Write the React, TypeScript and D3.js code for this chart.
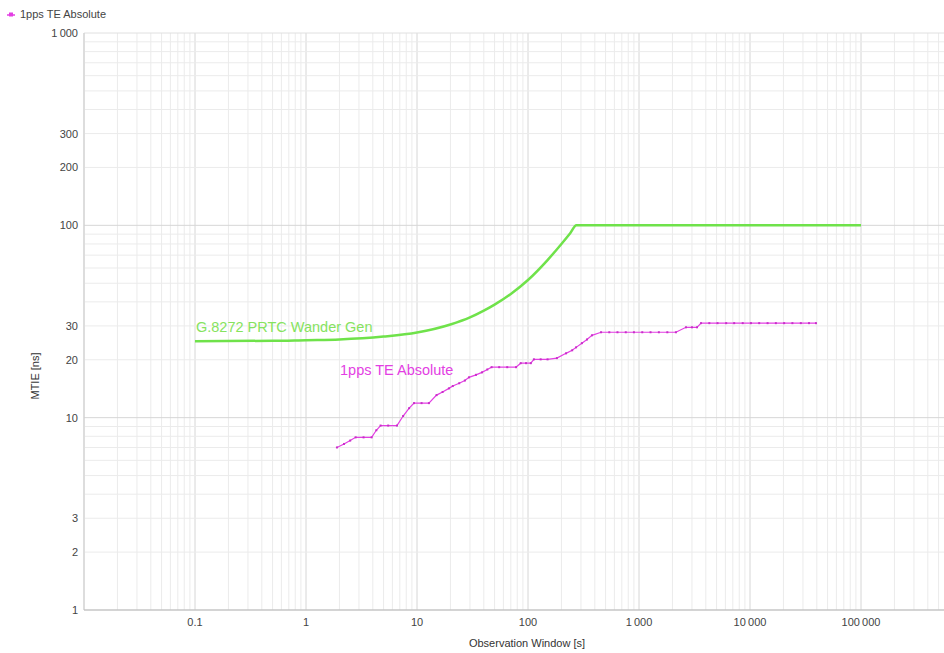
import React, { useEffect, useRef } from 'react'
import * as d3 from 'd3'

// G.8272 PRTC wander generation mask (tau [s], MTIE [ns])
const maskTau = [0.1, 0.5, 1, 2, 5, 10, 20, 30, 40, 50, 70, 100, 150, 200, 240, 273, 100000]
const maskMtie = [25, 25.1, 25.3, 25.5, 26.4, 27.7, 30.5, 33.2, 36, 38.7, 44, 52, 66, 80, 91, 100, 100]

// 1pps TE Absolute measurement (tau [s], MTIE [ns])
const ppsTau = [
    1.9, 2.2, 2.5, 2.8, 3.3, 3.9, 4.3, 4.7, 5.5, 6.6, 7.5, 8.5, 9.4, 11, 12.8, 15, 17, 19.4,
    21, 24, 27, 29.4, 34, 38.5, 43, 47, 55, 65, 78, 86, 96, 106, 113, 130, 150, 182, 220,
    250, 271, 306, 340, 377, 455, 540, 640, 760, 900, 1070, 1270, 1510, 1800, 2150, 2650,
    3000, 3330, 3620, 4300, 5100, 6100, 7200, 8600, 10200, 12100, 14400, 17100, 20300,
    24100, 28700, 34000, 39300,
]
const ppsMtie = [
    7.0, 7.3, 7.6, 7.9, 7.9, 7.9, 8.6, 9.1, 9.1, 9.1, 10.2, 11.2, 11.9, 11.9, 11.9, 13.1,
    13.6, 14.2, 14.6, 15.1, 15.6, 16.2, 16.7, 17.2, 17.8, 18.3, 18.3, 18.3, 18.3, 19.2,
    19.2, 19.2, 20.1, 20.1, 20.1, 20.4, 21.6, 22.4, 23.2, 24.4, 25.5, 26.8, 27.8, 27.8,
    27.8, 27.8, 27.8, 27.8, 27.8, 27.8, 27.8, 27.8, 29.5, 29.5, 29.5, 31, 31, 31, 31, 31,
    31, 31, 31, 31, 31, 31, 31, 31, 31, 31,
]

const xTicks = [0.1, 1, 10, 100, 1000, 10000, 100000]
const yTicks = [1, 2, 3, 10, 20, 30, 100, 200, 300, 1000]

const GREEN = '#6fe24a'
const PINK = '#e33ee3'
const FONT = 'Liberation Sans, Arial, sans-serif'

const fmt = (v: number) =>
    v < 1 ? String(v) : d3.format(',')(v).replace(/,/g, '\u2009')

export default function App() {
    const svgRef = useRef<SVGSVGElement>(null)

    useEffect(() => {
        const width = 944
        const height = 653
        const svg = d3.select(svgRef.current).attr('width', width).attr('height', height)
        svg.selectAll('*').remove()

        const x = d3.scaleLog().domain([0.01, 1e6]).range([84, 972])
        const y = d3.scaleLog().domain([1, 1000]).range([610, 33])

        const grid = svg.append('g')
        // vertical grid
        for (let e = -2; e < 6; e++) {
            for (let m = 1; m < 10; m++) {
                const v = m * Math.pow(10, e)
                const px = x(v)
                if (px > width) continue
                grid.append('line')
                    .attr('x1', px).attr('x2', px)
                    .attr('y1', 33).attr('y2', 610)
                    .attr('stroke', m === 1 ? '#d6d6d6' : '#ebebeb')
                    .attr('stroke-width', 1)
            }
        }
        // horizontal grid
        for (let e = 0; e < 3; e++) {
            for (let m = 1; m < 10; m++) {
                const py = y(m * Math.pow(10, e))
                grid.append('line')
                    .attr('x1', 84).attr('x2', width)
                    .attr('y1', py).attr('y2', py)
                    .attr('stroke', m === 1 ? '#d6d6d6' : '#ebebeb')
            }
        }
        grid.append('line')
            .attr('x1', 84).attr('x2', width).attr('y1', y(1000)).attr('y2', y(1000))
            .attr('stroke', '#e0e0e0')

        // axis lines
        svg.append('line').attr('x1', 84).attr('x2', 84).attr('y1', 33).attr('y2', 610)
            .attr('stroke', '#cfcfcf')
        svg.append('line').attr('x1', 84).attr('x2', width).attr('y1', 610).attr('y2', 610)
            .attr('stroke', '#bdbdbd')

        // tick labels
        svg.append('g').selectAll('text').data(yTicks).enter().append('text')
            .attr('x', 78).attr('y', (d) => y(d) + 4)
            .attr('text-anchor', 'end')
            .attr('font-family', FONT).attr('font-size', 11).attr('fill', '#444')
            .text((d) => fmt(d))
        svg.append('g').selectAll('text').data(xTicks).enter().append('text')
            .attr('x', (d) => x(d)).attr('y', 626)
            .attr('text-anchor', 'middle')
            .attr('font-family', FONT).attr('font-size', 11).attr('fill', '#444')
            .text((d) => fmt(d))

        // axis titles
        svg.append('text')
            .attr('x', 527).attr('y', 647)
            .attr('text-anchor', 'middle')
            .attr('font-family', FONT).attr('font-size', 11).attr('fill', '#333')
            .text('Observation Window [s]')
        svg.append('text')
            .attr('transform', 'translate(39, 376) rotate(-90)')
            .attr('text-anchor', 'middle')
            .attr('font-family', FONT).attr('font-size', 11).attr('fill', '#333')
            .text('MTIE [ns]')

        const mask: [number, number][] = maskTau.map((t, i) => [t, maskMtie[i]])
        svg.append('path')
            .attr('d', d3.line<[number, number]>().x((d) => x(d[0])).y((d) => y(d[1]))
                .curve(d3.curveMonotoneX)(mask))
            .attr('fill', 'none').attr('stroke', GREEN).attr('stroke-width', 2.5)

        const pps: [number, number][] = ppsTau.map((t, i) => [t, ppsMtie[i]])
        svg.append('path')
            .attr('d', d3.line<[number, number]>().x((d) => x(d[0])).y((d) => y(d[1]))(pps))
            .attr('fill', 'none').attr('stroke', PINK).attr('stroke-width', 1.2)
        svg.append('g').selectAll('rect').data(pps).enter().append('rect')
            .attr('x', (d) => x(d[0]) - 1).attr('y', (d) => y(d[1]) - 1)
            .attr('width', 2).attr('height', 2)
            .attr('fill', '#c92ec9')

        // in-plot labels
        svg.append('text')
            .attr('x', 196).attr('y', 332)
            .attr('font-family', FONT).attr('font-size', 14.5).attr('fill', '#86e35e')
            .text('G.8272 PRTC Wander Gen')
        svg.append('text')
            .attr('x', 340).attr('y', 375)
            .attr('font-family', FONT).attr('font-size', 14.5).attr('fill', PINK)
            .text('1pps TE Absolute')

        // legend
        svg.append('line').attr('x1', 7).attr('x2', 15).attr('y1', 15).attr('y2', 15)
            .attr('stroke', PINK).attr('stroke-width', 1.5)
        svg.append('rect').attr('x', 9).attr('y', 12.5).attr('width', 4).attr('height', 4)
            .attr('fill', PINK)
        svg.append('text')
            .attr('x', 20).attr('y', 18)
            .attr('font-family', FONT).attr('font-size', 11).attr('fill', '#444')
            .text('1pps TE Absolute')
    }, [])

    return (
        <svg
            ref={svgRef}
            style={{ position: 'absolute', left: 0, top: 0, display: 'block', background: '#fff' }}
        />
    )
}
